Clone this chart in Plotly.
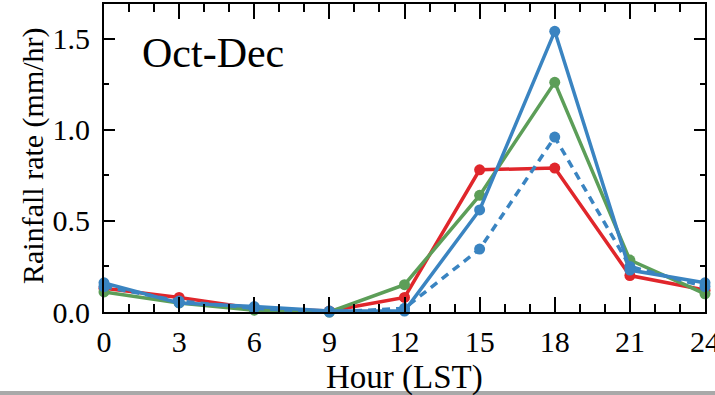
import plotly.graph_objects as go

hours = [0, 3, 6, 9, 12, 15, 18, 21, 24]
red_vals = [0.13, 0.08, 0.02, 0.005, 0.08, 0.78, 0.79, 0.20, 0.12]
green_vals = [0.11, 0.05, 0.01, 0.0, 0.15, 0.64, 1.26, 0.285, 0.10]
blue_dash_vals = [0.14, 0.06, 0.02, 0.0, 0.02, 0.345, 0.96, 0.25, 0.14]
blue_vals = [0.16, 0.05, 0.03, 0.005, 0.005, 0.56, 1.54, 0.23, 0.16]
x_ticks = [0, 3, 6, 9, 12, 15, 18, 21, 24]
y_ticks = [0.0, 0.5, 1.0, 1.5]
y_ticklabels = ["0.0", "0.5", "1.0", "1.5"]
season = "Oct-Dec"
x_title = "Hour (LST)"
y_title = "Rainfall rate (mm/hr)"

RED = "#e0262b"
GREEN = "#5c9e58"
BLUE = "#3a84c1"
FONT = "Liberation Serif, Times New Roman, serif"

L, R, T, B = 104, 10, 4, 83
W, H = 715, 395
PW, PH = W - L - R, H - T - B

fig = go.Figure()
for vals, color, dash in [
    (red_vals, RED, "solid"),
    (green_vals, GREEN, "solid"),
    (blue_dash_vals, BLUE, "8px,6px"),
    (blue_vals, BLUE, "solid"),
]:
    fig.add_trace(go.Scatter(
        x=hours, y=vals, mode="lines+markers",
        line=dict(color=color, width=3.5, dash=dash),
        marker=dict(color=color, size=11, symbol="circle"),
        cliponaxis=False, showlegend=False,
    ))

fig.add_annotation(
    x=36 / PW, y=1 - (53 - T) / PH, xref="paper", yref="paper",
    text=season, showarrow=False, xanchor="left", yanchor="middle",
    font=dict(family=FONT, size=42, color="black"),
)
# axis titles
fig.add_annotation(
    x=0.5, y=-(377 - (H - B)) / PH, xref="paper", yref="paper",
    text=x_title, showarrow=False, xanchor="center", yanchor="middle",
    font=dict(family=FONT, size=33, color="black"),
)
fig.add_annotation(
    x=-(L - 33) / PW, y=1 - (156 - T) / PH, xref="paper", yref="paper",
    text=y_title, showarrow=False, xanchor="center", yanchor="middle",
    textangle=-90,
    font=dict(family=FONT, size=30, color="black"),
)

# grey strip at bottom of the image
fig.add_shape(type="rect", xref="paper", yref="paper",
              x0=-L / PW, x1=1 + R / PW,
              y0=-(391 - (H - B)) / PH, y1=-(H - (H - B)) / PH,
              fillcolor="#a9a9a9", line=dict(width=0), layer="above")

fig.update_layout(
    width=W, height=H,
    margin=dict(l=L, r=R, t=T, b=B, autoexpand=False),
    paper_bgcolor="white", plot_bgcolor="white",
    font=dict(family=FONT, size=30, color="black"),
    xaxis=dict(
        range=[0, 24], tickvals=x_ticks, ticks="inside", ticklen=15,
        tickwidth=2, tickcolor="black", showline=True, linewidth=2,
        linecolor="black", mirror="allticks", showgrid=False, zeroline=False,
        minor=dict(dtick=1, ticks="inside", ticklen=8, tickwidth=2,
                   tickcolor="black", showgrid=False),
        tickfont=dict(family=FONT, size=30),
        ticklabelstandoff=2, automargin=False, ticklabeloverflow="allow",
    ),
    yaxis=dict(
        range=[0, 1.69], tickvals=y_ticks, ticktext=y_ticklabels,
        ticks="inside", ticklen=11, tickwidth=2, tickcolor="black",
        showline=True, linewidth=2, linecolor="black", mirror="allticks",
        showgrid=False, zeroline=False,
        minor=dict(tickvals=[0.25, 0.75, 1.25], ticks="inside", ticklen=5,
                   tickwidth=2, tickcolor="black", showgrid=False),
        tickfont=dict(family=FONT, size=30),
        ticklabelstandoff=6, automargin=False, ticklabeloverflow="allow",
    ),
)

fig.write_html(
    "out.html",
    config={"displayModeBar": False},
    post_script="document.body.style.margin='0';document.body.style.overflow='hidden';",
)
